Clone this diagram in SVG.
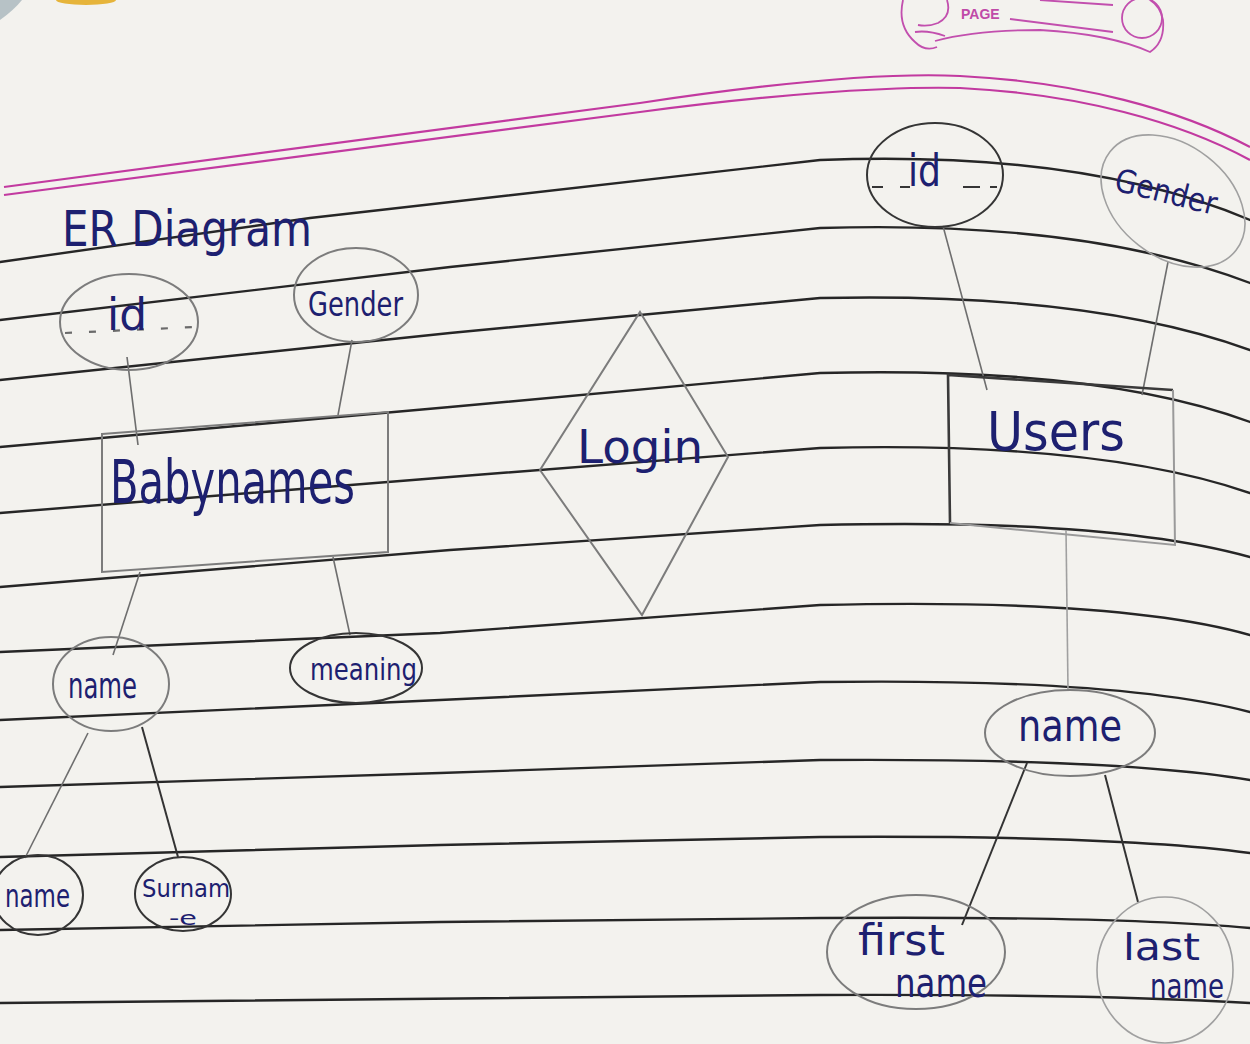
<svg xmlns="http://www.w3.org/2000/svg" width="1250" height="1044" viewBox="0 0 1250 1044">
<defs>
<style>
.rule{fill:none;stroke:#262626;stroke-width:2.4;stroke-linecap:round}
.pink{fill:none;stroke:#c23aa0;stroke-width:2.2}
.pencil{fill:none;stroke:#7c7c7c;stroke-width:2}
.pen{fill:none;stroke:#353535;stroke-width:2}
.light{fill:none;stroke:#a0a0a0;stroke-width:1.6}
.conn{fill:none;stroke:#6e6e6e;stroke-width:1.6}
.connd{fill:none;stroke:#333;stroke-width:2}
.dash{fill:none;stroke:#6a6a6a;stroke-width:2.2;stroke-dasharray:7 17}
.t{font-family:"DejaVu Sans","Liberation Sans",sans-serif;fill:#1d2070}
.stamp{fill:none;stroke:#c24fae;stroke-width:1.8}
</style>
</defs>
<!-- paper -->
<rect x="0" y="0" width="1250" height="1044" fill="#f3f2ee"/>
<path d="M0,0 L22,0 Q14,10 0,20 Z" fill="#b7c2c6"/>
<ellipse cx="86" cy="0" rx="30" ry="5" fill="#e6b43a"/>
<!-- page stamp -->
<g id="page-stamp">
<path class="stamp" d="M903,0 Q897,26 915,42 Q925,52 937,47 M915,32 Q928,30 945,36"/>
<path class="stamp" d="M947,0 Q952,16 938,23 Q928,27 918,25"/>
<path class="stamp" d="M935,41 Q975,30 1040,30 Q1110,34 1150,52 Q1165,42 1163,20 Q1160,6 1150,0"/>
<circle class="stamp" cx="1142" cy="18" r="20"/>
<path class="stamp" d="M1010,19 L1113,32 M1040,0 L1113,5"/>
<text x="961" y="19" font-family="Liberation Sans,Arial,sans-serif" font-weight="bold" font-size="14" fill="#c04aa8">PAGE</text>
</g>
<!-- pink margin lines -->
<path class="pink" d="M4,187 L640,103 C760,85 880,72 960,76 C1080,82 1180,110 1250,147"/>
<path class="pink" d="M4,195 L640,112 C760,96 880,86 960,88 C1080,94 1180,122 1250,160"/>
<!-- ruled lines -->
<g id="ruled-lines">
<path class="rule" d="M0,262 L310,218 L820,160 Q1085,150 1250,220"/>
<path class="rule" d="M0,320 L450,267 L820,228 Q1085,220 1250,283"/>
<path class="rule" d="M0,380 L450,333 L820,298 Q1090,292 1250,350"/>
<path class="rule" d="M0,447 L450,407 L820,373 Q1100,366 1250,422"/>
<path class="rule" d="M0,513 L450,477 L820,448 Q1100,441 1250,493"/>
<path class="rule" d="M0,587 L450,550 L820,525 Q1110,518 1250,557"/>
<path class="rule" d="M0,652 L440,633 L820,605 Q1120,598 1250,635"/>
<path class="rule" d="M0,720 L440,700 L820,682 Q1120,678 1250,712"/>
<path class="rule" d="M0,787 L440,773 L820,760 Q1120,758 1250,780"/>
<path class="rule" d="M0,857 L440,845 L820,837 Q1120,835 1250,853"/>
<path class="rule" d="M0,930 L440,922 L820,918 Q1120,916 1250,928"/>
<path class="rule" d="M0,1003 L820,995 Q1100,994 1250,1003"/>
</g>
<!-- title -->
<text class="t" x="62" y="246" font-size="50" textLength="250" lengthAdjust="spacingAndGlyphs" fill="#26318c">ER Diagram</text>
<!-- connectors -->
<g id="connectors">
<path class="conn" d="M127,357 L138,445"/>
<path class="conn" d="M352,340 L338,415"/>
<path class="conn" d="M140,572 L113,655"/>
<path class="conn" d="M333,557 L350,635"/>
<path class="conn" d="M88,733 L25,858"/>
<path class="connd" d="M142,727 L178,857"/>
<path class="conn" d="M943,226 L987,390"/>
<path class="conn" d="M1168,262 L1142,395"/>
<path class="light" d="M1066,530 L1068,690"/>
<path class="connd" d="M1027,763 L962,925"/>
<path class="connd" d="M1105,775 L1138,902"/>
</g>
<!-- Babynames entity -->
<g id="babynames">
<path class="pencil" d="M102,434 L388,412 L388,552 L102,572 Z"/>
<text class="t" x="110" y="503" font-size="60" textLength="245" lengthAdjust="spacingAndGlyphs">Babynames</text>
</g>
<g id="babynames-id">
<ellipse class="pencil" cx="129" cy="322" rx="69" ry="48"/>
<path class="dash" d="M65,333 L195,327"/>
<text class="t" x="107" y="330" font-size="44" textLength="40" lengthAdjust="spacingAndGlyphs">id</text>
</g>
<g id="babynames-gender">
<ellipse class="pencil" cx="356" cy="295" rx="62" ry="47"/>
<text class="t" x="308" y="316" font-size="34" textLength="95" lengthAdjust="spacingAndGlyphs">Gender</text>
</g>
<g id="babynames-name">
<ellipse class="pencil" cx="111" cy="684" rx="58" ry="47"/>
<text class="t" x="68" y="698" font-size="36" textLength="69" lengthAdjust="spacingAndGlyphs">name</text>
</g>
<g id="babynames-meaning">
<ellipse class="pen" cx="356" cy="668" rx="66" ry="35"/>
<text class="t" x="310" y="680" font-size="30" textLength="107" lengthAdjust="spacingAndGlyphs">meaning</text>
</g>
<g id="name-name">
<ellipse class="pen" cx="38" cy="895" rx="45" ry="40"/>
<text class="t" x="5" y="907" font-size="32" textLength="65" lengthAdjust="spacingAndGlyphs">name</text>
</g>
<g id="name-surname">
<ellipse class="pen" cx="183" cy="894" rx="48" ry="37"/>
<text class="t" x="142" y="897" font-size="24" textLength="88" lengthAdjust="spacingAndGlyphs">Surnam</text>
<text class="t" x="169" y="925" font-size="20" textLength="28" lengthAdjust="spacingAndGlyphs">-e</text>
</g>
<!-- Login relationship -->
<g id="login">
<path class="pencil" d="M640,312 L728,457 L642,615 L540,470 Z"/>
<text class="t" x="577" y="463" font-size="46" textLength="126" lengthAdjust="spacingAndGlyphs">Login</text>
</g>
<!-- Users entity -->
<g id="users">
<path fill="none" stroke="#3a3a3a" stroke-width="2.6" d="M950,523 L948,375 L1173,390"/>
<path fill="none" stroke="#9a9a9a" stroke-width="2" d="M1173,390 L1175,545 L950,523"/>
<text class="t" x="987" y="450" font-size="54" textLength="138" lengthAdjust="spacingAndGlyphs">Users</text>
</g>
<g id="users-id">
<ellipse class="pen" cx="935" cy="175" rx="68" ry="52"/>
<path class="pen" stroke-width="2.2" d="M872,187 L883,187 M900,187 L910,187 M963,187 L980,187 M990,187 L997,187"/>
<text class="t" x="908" y="186" font-size="44" textLength="33" lengthAdjust="spacingAndGlyphs">id</text>
</g>
<g id="users-gender">
<ellipse class="light" cx="1173" cy="201" rx="80" ry="56" transform="rotate(38 1173 201)"/>
<text class="t" x="1113" y="190" font-size="32" textLength="104" lengthAdjust="spacingAndGlyphs" fill="#2a3596" transform="rotate(14 1113 190)">Gender</text>
</g>
<g id="users-name">
<ellipse class="pencil" cx="1070" cy="733" rx="85" ry="43"/>
<text class="t" x="1018" y="741" font-size="44" textLength="104" lengthAdjust="spacingAndGlyphs">name</text>
</g>
<g id="users-first-name">
<ellipse class="pencil" cx="916" cy="952" rx="89" ry="57"/>
<text class="t" x="858" y="955" font-size="42" textLength="87" lengthAdjust="spacingAndGlyphs">first</text>
<text class="t" x="895" y="997" font-size="40" textLength="92" lengthAdjust="spacingAndGlyphs">name</text>
</g>
<g id="users-last-name">
<ellipse class="light" cx="1165" cy="970" rx="68" ry="73"/>
<text class="t" x="1123" y="960" font-size="38" textLength="77" lengthAdjust="spacingAndGlyphs">last</text>
<text class="t" x="1150" y="998" font-size="34" textLength="74" lengthAdjust="spacingAndGlyphs">name</text>
</g>
</svg>
